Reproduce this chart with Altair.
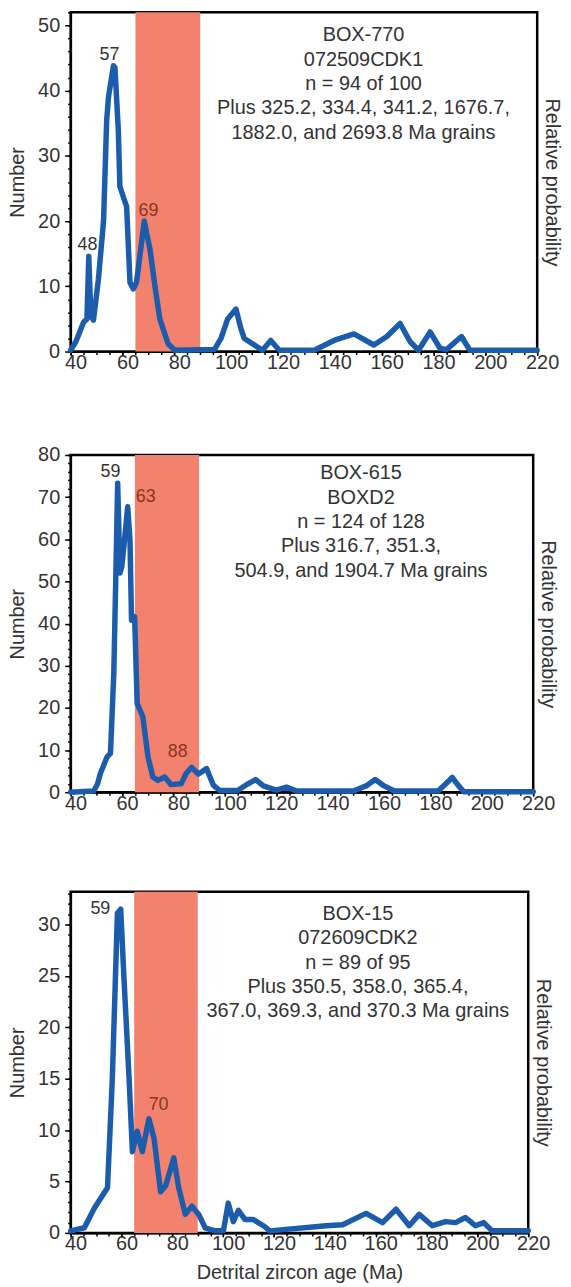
import altair as alt
import pandas as pd

FONT = "Liberation Sans"
LINE_COLOR = "#1c5cad"
BAND_COLOR = "#f2826e"
TEXT_COLOR = "#333333"
LABEL_IN_BAND = "#8a3424"

BAND_START = 65
BAND_END = 90

# ---------- Panel 1: BOX-770 ----------
p1_age = [40, 42, 43.7, 45, 46.3, 47.0, 47.8, 48.8, 50.7, 52.7, 53.9, 54.6, 56.5, 57.1,
          58.4, 59.0, 61.6, 62.9, 64.2, 65.4, 66.7, 68.4, 69.3, 70.6, 72.5, 74.4, 77.6,
          80.2, 95.5, 98, 100.6, 103.8, 105.7, 107, 110.9, 114, 117.2, 120.5, 134,
          141.6, 149.3, 157, 162, 167.1, 171, 174.2, 178.7, 182.5, 185, 190.8, 194, 220]
p1_num = [0.2, 1.5, 3.2, 4.5, 5.0, 14.6, 5.5, 4.8, 11, 20, 35.4, 39, 43.8, 43.5,
          33.9, 25.3, 22.2, 10.6, 9.6, 10.6, 14.6, 20, 18.2, 15.7, 10.1, 5, 1.2,
          0.2, 0.3, 2, 5, 6.5, 3.5, 2, 1, 0.2, 1.7, 0.2, 0.2,
          1.7, 2.7, 1, 2.3, 4.3, 1.5, 0.2, 3, 0.5, 0.3, 2.3, 0.2, 0.2]
p1_peak_text = ["48", "57", "69"]
p1_peak_x = [46.5, 55.0, 70.0]
p1_peak_y = [16.4, 45.5, 21.5]
p1_info = ["BOX-770", "072509CDK1", "n = 94 of 100",
           "Plus 325.2, 334.4, 341.2, 1676.7,", "1882.0, and 2693.8 Ma grains"]

# ---------- Panel 2: BOX-615 ----------
p2_age = [40, 49, 50.5, 51.6, 54.2, 55.5, 56.8, 57.5, 58.3, 59.2, 59.9, 61.0, 62.2, 63.1,
          63.7, 64.9, 65.9, 68.1, 70.1, 72, 74, 76.6, 79.1, 83, 85, 87.1, 89.7, 92.9,
          95.5, 98, 105, 109, 112, 115, 120, 124, 128, 150, 155, 158.5, 162, 166,
          183, 186, 188.5, 191, 193, 220]
p2_num = [0, 0.3, 2, 4.5, 8.4, 9.2, 28.2, 48.7, 73.3, 52, 53.5, 60, 67.7, 59.8,
          40.8, 41.6, 21, 17.9, 8.4, 3.6, 2.8, 3.6, 1.8, 2, 4.5, 5.9, 4.3, 5.6,
          1.7, 0.4, 0.4, 2, 3, 1.5, 0.5, 1.2, 0.3, 0.3, 1.5, 3, 1.5, 0.3,
          0.3, 2, 3.5, 1.5, 0.1, 0.1]
p2_peak_text = ["59", "63", "88"]
p2_peak_x = [55.5, 69.2, 81.7]
p2_peak_y = [76.0, 70.1, 9.6]
p2_info = ["BOX-615", "BOXD2", "n = 124 of 128",
           "Plus 316.7, 351.3,", "504.9, and 1904.7 Ma grains"]

# ---------- Panel 3: BOX-15 ----------
p3_age = [40, 45.4, 49.3, 54.5, 56.4, 58.4, 59.7, 61, 63, 64.3, 66.2, 68.2, 70.8, 72.8,
          75.4, 77.4, 80.6, 82.5, 85.1, 87.7, 90.4, 92.9, 96.8, 100.1, 102, 104, 106,
          108.6, 111.9, 115.8, 118.4, 140.5, 147, 156.2, 162.7, 168, 173.2, 177.1,
          182.3, 187.5, 191.4, 195.3, 199.2, 202.5, 205.8, 220]
p3_num = [0.2, 0.5, 2.4, 4.4, 15, 31.1, 31.5, 24.7, 15, 7.9, 9.9, 7.9, 11.1, 9.2,
          4, 4.6, 7.3, 4.4, 1.8, 2.6, 1.8, 0.5, 0.2, 0.2, 2.9, 1.1, 2.2,
          1.3, 1.3, 0.7, 0.2, 0.7, 0.8, 1.9, 1, 2.3, 0.7, 1.8,
          0.7, 1.1, 1.0, 1.5, 0.7, 1, 0.2, 0.2]
p3_peak_text = ["59", "70"]
p3_peak_x = [51.7, 74.6]
p3_peak_y = [31.5, 12.4]
p3_info = ["BOX-15", "072609CDK2", "n = 89 of 95",
           "Plus 350.5, 358.0, 365.4,", "367.0, 369.3, and 370.3 Ma grains"]

x_major = list(range(40, 221, 20))
x_minor = list(range(40, 221, 5))


def panel(age, num, ymax, ymajor, ystep, ptext, px, py, info, info_x, info_y,
          width, height, xtitle=None, top_gap=0):
    xs = alt.Scale(domain=[40, 220], nice=False, zero=False)
    ys = alt.Scale(domain=[0, ymax], nice=False, zero=True)
    yminor = []
    v = 0.0
    while v <= ymax + 1e-9:
        yminor.append(round(v, 3))
        v += ystep

    curve = pd.DataFrame({"age": age, "num": num})
    band = pd.DataFrame({"start": [BAND_START], "end": [BAND_END], "lo": [0], "hi": [ymax]})
    peaks = pd.DataFrame({"t": ptext, "x": px, "y": py,
                          "c": [LABEL_IN_BAND if BAND_START <= a <= BAND_END else TEXT_COLOR for a in px]})
    info_df = pd.DataFrame({"t": ["\n".join(info)], "x": [info_x], "y": [info_y]})

    if top_gap:
        band_x_axis = alt.Axis(orient="top", labels=False, ticks=False, domain=False,
                               grid=False, title=" ", titleFontSize=top_gap, titlePadding=0)
    else:
        band_x_axis = None

    band_layer = alt.Chart(band).mark_rect(color=BAND_COLOR).encode(
        x=alt.X("start:Q", scale=xs, axis=band_x_axis),
        x2="end:Q",
        y=alt.Y("lo:Q", scale=ys, axis=alt.Axis(
            orient="right", title="Relative probability", labels=False, ticks=False,
            domain=False, grid=False, titleAngle=90, titlePadding=4)),
        y2="hi:Q",
    )

    line_layer = alt.Chart(curve).mark_line(
        color=LINE_COLOR, strokeWidth=5.5, strokeJoin="round", strokeCap="round"
    ).encode(
        x=alt.X("age:Q", scale=xs, axis=alt.Axis(
            orient="bottom", values=x_major, title=xtitle if xtitle else None, tickSize=4,
            labelPadding=-3, labelOffset=5, labelFlush=False, titlePadding=9)),
        y=alt.Y("num:Q", scale=ys, axis=alt.Axis(
            orient="left", values=ymajor, title="Number", tickSize=6,
            labelPadding=5, titlePadding=10)),
        order=alt.Order("age:Q"),
    )

    peak_layer = alt.Chart(peaks).mark_text(
        font=FONT, fontSize=18, baseline="middle", align="center"
    ).encode(
        x=alt.X("x:Q", scale=xs, axis=alt.Axis(
            orient="bottom", values=x_minor, labels=False, title=None, tickSize=3, domain=False)),
        y=alt.Y("y:Q", scale=ys, axis=alt.Axis(
            orient="left", values=yminor, labels=False, title=None, tickSize=3, domain=False)),
        text="t:N",
        color=alt.Color("c:N", scale=None),
    )

    info_layer = alt.Chart(info_df).mark_text(
        font=FONT, fontSize=20, lineHeight=24.5, baseline="top", align="center",
        color=TEXT_COLOR, lineBreak="\n"
    ).encode(
        x=alt.X("x:Q", scale=xs, axis=None),
        y=alt.Y("y:Q", scale=ys, axis=None),
        text="t:N",
    )

    return alt.layer(band_layer, line_layer, peak_layer, info_layer).resolve_axis(
        x="independent", y="independent"
    ).properties(width=width, height=height)


c1 = panel(p1_age, p1_num, 52, [0, 10, 20, 30, 40, 50], 2, p1_peak_text, p1_peak_x,
           p1_peak_y, p1_info, 153, 50, 469, 341)
c2 = panel(p2_age, p2_num, 80, [0, 10, 20, 30, 40, 50, 60, 70, 80], 2, p2_peak_text,
           p2_peak_x, p2_peak_y, p2_info, 153, 78, 465, 339)
c3 = panel(p3_age, p3_num, 33.2, [0, 5, 10, 15, 20, 25, 30], 1, p3_peak_text, p3_peak_x,
           p3_peak_y, p3_info, 153, 32, 460, 343, xtitle="Detrital zircon age (Ma)",
           top_gap=6)

chart = alt.vconcat(c1, c2, c3, spacing=69).properties(
    padding={"left": 6, "top": 7, "right": 8, "bottom": 0}
).configure_view(
    stroke="black", strokeWidth=2.5
).configure_axis(
    domainColor="black", domainWidth=2, tickColor="black", tickWidth=1.5,
    labelColor=TEXT_COLOR, labelFont=FONT, labelFontSize=20,
    titleColor=TEXT_COLOR, titleFont=FONT, titleFontSize=20, titleFontWeight="normal",
    grid=False
)

chart.save("out.html", embed_options={"renderer": "svg", "actions": False})
